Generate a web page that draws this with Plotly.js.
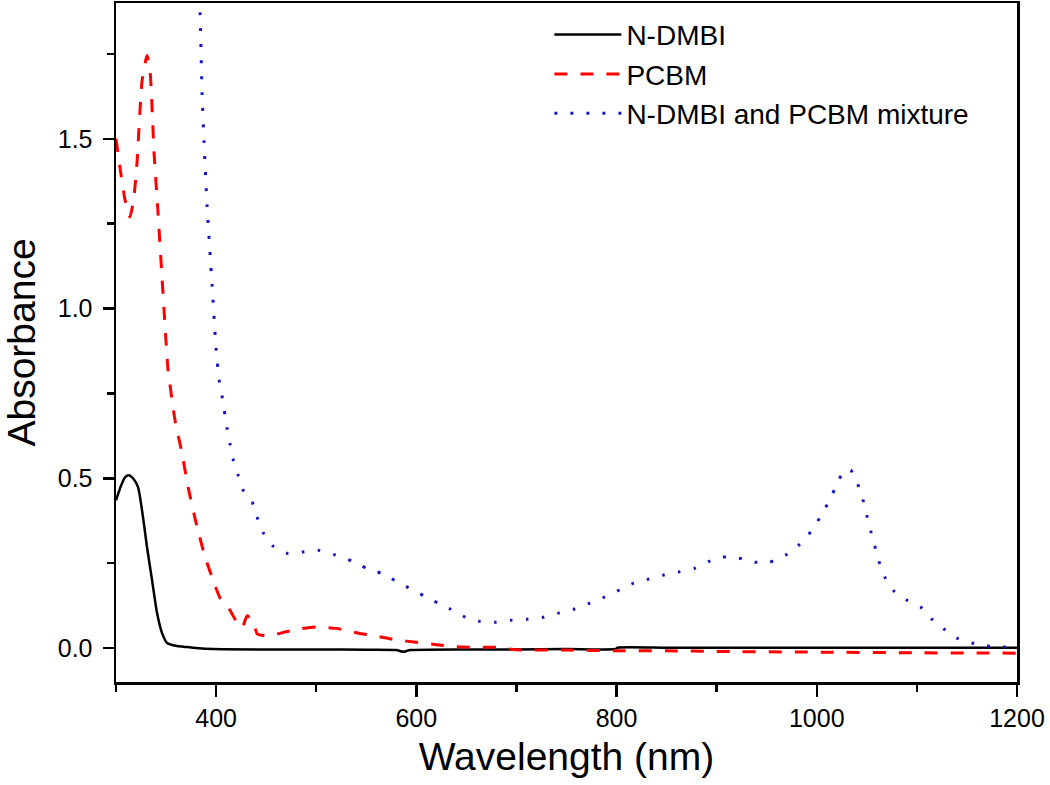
<!DOCTYPE html>
<html>
<head>
<meta charset="utf-8">
<script src="https://cdn.plot.ly/plotly-3.0.1.min.js"></script>
<style>html,body{margin:0;padding:0;background:#fff;}#chart{width:1050px;height:785px;}</style>
</head>
<body>
<div id="chart"></div>
<script>
// N-DMBI
const ndmbiX = [300, 305, 309, 313, 317, 322, 327, 331, 336, 341, 346, 351, 356, 361, 370, 380, 397, 450, 500, 550, 580, 587, 594, 650, 700, 750, 799, 801, 850, 900, 1000, 1100, 1200];
const ndmbiY = [0.435, 0.478, 0.503, 0.509, 0.50, 0.474, 0.385, 0.297, 0.20, 0.103, 0.044, 0.015, 0.009, 0.006, 0.003, 0.0, -0.003, -0.004, -0.004, -0.005, -0.006, -0.011, -0.006, -0.004, -0.004, -0.003, -0.003, 0.001, 0.001, 0.001, 0.001, 0.001, 0.001];
// PCBM
const pcbmX = [300, 304, 309, 314, 318, 321, 326, 331, 334, 338, 342, 346, 350, 352, 359, 366, 372, 381, 389, 397, 404, 411, 416, 421, 426, 431, 437, 441, 452, 470, 485, 500, 520, 540, 560, 580, 600, 620, 640, 660, 680, 700, 750, 800, 850, 900, 1000, 1100, 1200];
const pcbmY = [1.50, 1.415, 1.32, 1.27, 1.33, 1.43, 1.67, 1.745, 1.70, 1.46, 1.28, 1.09, 0.90, 0.82, 0.67, 0.573, 0.474, 0.356, 0.268, 0.20, 0.147, 0.126, 0.10, 0.075, 0.06, 0.095, 0.08, 0.042, 0.036, 0.048, 0.057, 0.062, 0.058, 0.045, 0.035, 0.024, 0.017, 0.01, 0.004, 0.002, 0.002, -0.005, -0.006, -0.008, -0.008, -0.01, -0.012, -0.014, -0.015];
// N-DMBI and PCBM mixture
const mixX = [383, 384, 386, 388, 391, 396, 400, 403, 406, 411, 414, 417, 422, 427, 436, 441, 447, 457, 471, 486, 502, 519, 536, 550, 565, 592, 608, 622, 634, 649, 663, 679, 695, 711, 727, 742, 758, 773, 788, 803, 817, 832, 847, 862, 878, 893, 906, 922, 938, 953, 969, 982, 992, 1001, 1009, 1016, 1022, 1030, 1034, 1041, 1046, 1050, 1054, 1058, 1062, 1068, 1077, 1090, 1105, 1115, 1127, 1140, 1155, 1170, 1186, 1200];
const mixY = [1.92, 1.87, 1.63, 1.49, 1.30, 1.07, 0.88, 0.79, 0.74, 0.647, 0.60, 0.556, 0.509, 0.465, 0.43, 0.385, 0.34, 0.30, 0.279, 0.283, 0.288, 0.274, 0.256, 0.235, 0.22, 0.178, 0.153, 0.132, 0.115, 0.091, 0.079, 0.076, 0.082, 0.085, 0.091, 0.103, 0.115, 0.132, 0.15, 0.171, 0.191, 0.203, 0.215, 0.224, 0.235, 0.256, 0.268, 0.265, 0.253, 0.253, 0.274, 0.303, 0.335, 0.374, 0.415, 0.456, 0.497, 0.528, 0.524, 0.482, 0.438, 0.391, 0.344, 0.30, 0.256, 0.209, 0.168, 0.141, 0.118, 0.085, 0.056, 0.029, 0.015, 0.006, 0.003, 0.003];

const seriesNames = ['N-DMBI', 'PCBM', 'N-DMBI and PCBM mixture'];
const xTickVals = [400, 600, 800, 1000, 1200];
const yTickVals = [0.0, 0.5, 1.0, 1.5];

const traces = [
  {x: ndmbiX, y: ndmbiY, name: seriesNames[0], type: 'scatter', mode: 'lines',
   line: {color: '#000000', width: 2.5, shape: 'spline', smoothing: 0.6}},
  {x: pcbmX, y: pcbmY, name: seriesNames[1], type: 'scatter', mode: 'lines',
   line: {color: '#ff0000', width: 3, dash: '13px,13px', shape: 'spline', smoothing: 0.5}},
  {x: mixX, y: mixY, name: seriesNames[2], type: 'scatter', mode: 'lines',
   line: {color: '#1515c0', width: 3, dash: '3px,13px', shape: 'spline', smoothing: 0.5}}
];

const font = 'Liberation Sans, Arial, sans-serif';
const layout = {
  width: 1050, height: 785,
  margin: {l: 116, r: 33, t: 3, b: 103},
  paper_bgcolor: '#ffffff', plot_bgcolor: '#ffffff',
  font: {family: font, color: '#000', size: 25},
  showlegend: true,
  legend: {x: 0.481, y: 0.99, xanchor: 'left', yanchor: 'top',
           font: {family: font, size: 28, color: '#000'},
           bgcolor: 'rgba(0,0,0,0)', borderwidth: 0, itemwidth: 67, tracegroupgap: 0},
  xaxis: {
    range: [300, 1200], tickmode: 'array', tickvals: xTickVals, ticktext: xTickVals.map(String),
    ticks: 'outside', ticklen: 12, tickwidth: 2.5, tickcolor: '#000',
    showline: true, linewidth: 2.5, linecolor: '#000', mirror: true,
    showgrid: false, zeroline: false,
    tickfont: {family: font, size: 25, color: '#000'},
    minor: {dtick: 100, tick0: 300, ticks: 'outside', ticklen: 7, tickwidth: 2.5, tickcolor: '#000', showgrid: false},
    title: {text: 'Wavelength (nm)', font: {family: font, size: 39, color: '#000'}, standoff: 12}
  },
  yaxis: {
    range: [-0.1, 1.9], tickmode: 'array', tickvals: yTickVals, ticktext: yTickVals.map(v => v.toFixed(1)),
    ticks: 'outside', ticklen: 11, tickwidth: 2.5, tickcolor: '#000',
    showline: true, linewidth: 2.5, linecolor: '#000', mirror: true,
    showgrid: false, zeroline: false, ticklabelstandoff: 5,
    tickfont: {family: font, size: 25, color: '#000'},
    minor: {dtick: 0.25, tick0: 0, ticks: 'outside', ticklen: 7, tickwidth: 2.5, tickcolor: '#000', showgrid: false},
    title: {text: 'Absorbance', font: {family: font, size: 39, color: '#000'}, standoff: 10}
  }
};

Plotly.newPlot('chart', traces, layout, {displayModeBar: false, staticPlot: true});
</script>
</body>
</html>
